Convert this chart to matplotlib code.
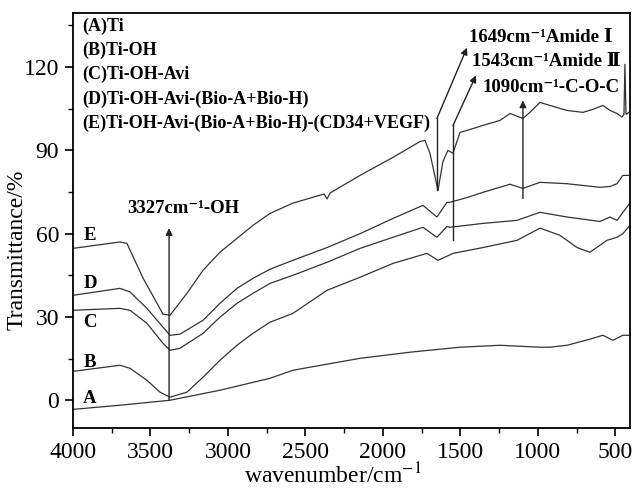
import numpy as np
import matplotlib
matplotlib.use('Agg')
import matplotlib.pyplot as plt
from matplotlib.ticker import MultipleLocator

plt.rcParams['font.family'] = ['Liberation Serif', 'DejaVu Serif', 'Noto Sans CJK SC']
plt.rcParams['mathtext.fontset'] = 'stix'

# wavenumber (cm-1) and transmittance (%)
wn_A = [4000, 3697, 3374, 3052, 2729, 2581, 2148, 1826, 1503, 1245, 987, 923, 813, 665, 581, 516, 452, 406]
tr_A = [-3.3, -1.8, 0.0, 3.6, 7.9, 10.8, 15.1, 17.3, 19.1, 19.8, 19.1, 19.1, 19.8, 22.0, 23.4, 21.6, 23.4, 23.4]

wn_B = [4000, 3697, 3632, 3523, 3439, 3374, 3265, 3161, 3052, 2942, 2839, 2729, 2581, 2361, 2148, 1935,
        1716, 1645, 1548, 1355, 1135, 987, 858, 748, 665, 555, 490, 452, 406]
tr_B = [10.4, 12.6, 11.5, 7.2, 2.9, 1.1, 2.9, 8.3, 14.4, 19.8, 24.1, 28.1, 31.3, 39.6, 44.3, 49.3,
        52.9, 50.4, 52.9, 55.0, 57.6, 62.0, 59.4, 55.0, 53.3, 57.6, 58.7, 60.0, 63.0]

wn_C = [4000, 3697, 3632, 3523, 3419, 3374, 3310, 3161, 3052, 2942, 2839, 2729, 2581, 2361, 2148, 1935,
        1742, 1652, 1587, 1568, 1355, 1135, 987, 813, 600, 535, 490, 426, 406]
tr_C = [32.4, 33.1, 32.4, 27.7, 20.5, 18.0, 18.7, 24.1, 29.9, 34.9, 38.5, 42.1, 45.0, 49.7, 54.7, 58.7,
        62.3, 58.7, 62.6, 62.3, 63.7, 64.8, 67.7, 66.0, 64.4, 66.0, 64.8, 69.6, 71.0]

wn_D = [4000, 3697, 3632, 3523, 3419, 3374, 3310, 3161, 3052, 2942, 2839, 2729, 2581, 2361, 2148, 1935,
        1742, 1652, 1587, 1568, 1458, 1355, 1180, 1097, 987, 813, 600, 535, 490, 452, 406]
tr_D = [37.8, 40.3, 39.0, 33.1, 26.3, 23.4, 23.8, 28.8, 34.9, 40.3, 43.9, 47.2, 50.4, 55.0, 60.0, 65.5,
        70.2, 66.0, 71.3, 71.3, 73.0, 74.9, 77.8, 76.3, 78.5, 78.0, 76.7, 77.0, 78.0, 81.0, 81.0]

wn_E = [4000, 3697, 3652, 3548, 3419, 3374, 3265, 3161, 3052, 2942, 2839, 2729, 2581, 2380, 2361, 2340,
        2148, 1935, 1761, 1729, 1697, 1645, 1613, 1581, 1548, 1503, 1458, 1355, 1245, 1180, 1097,
        1052, 987, 923, 813, 710, 645, 581, 535, 490, 458, 445, 439, 432, 406]
tr_E = [54.7, 57.0, 56.5, 44.0, 31.0, 30.6, 38.5, 46.8, 53.3, 58.3, 63.0, 67.3, 71.0, 74.3, 72.5, 74.7,
        81.0, 87.5, 93.2, 93.6, 89.0, 75.6, 86.0, 90.0, 89.0, 96.5, 97.2, 99.0, 100.8, 103.3, 101.5,
        103.7, 107.3, 106.2, 104.4, 103.7, 104.8, 106.2, 104.4, 103.3, 102.0, 103.0, 121.0, 103.0, 104.0]

curves = [(wn_A, tr_A), (wn_B, tr_B), (wn_C, tr_C), (wn_D, tr_D), (wn_E, tr_E)]
curve_tags = ['A', 'B', 'C', 'D', 'E']
tag_y = [0.7, 13.7, 28.0, 42.0, 59.4]
samples = ['(A)Ti', '(B)Ti-OH', '(C)Ti-OH-Avi', '(D)Ti-OH-Avi-(Bio-A+Bio-H)',
           '(E)Ti-OH-Avi-(Bio-A+Bio-H)-(CD34+VEGF)']
peak_notes = ['3327cm⁻¹-OH', '1649cm⁻¹Amide Ⅰ', '1543cm⁻¹Amide Ⅱ', '1090cm⁻¹-C-O-C']

fig = plt.figure(figsize=(6.33, 4.92), dpi=100)
ax = fig.add_axes([0.1153, 0.1301, 0.88, 0.8435])

for wn, tr in curves:
    ax.plot(wn, tr, color='#333333', lw=0.9)

for tag, ty in zip(curve_tags, tag_y):
    ax.text(3890, ty, tag, fontsize=13.5, fontweight='bold', ha='center', va='center')

for i, s in enumerate(samples):
    ax.text(0.016, 0.967 - i * 0.058, s, transform=ax.transAxes, fontsize=13,
            fontweight='bold', ha='left', va='center')

arw = dict(arrowstyle='-|>', color='#222222', lw=1.0, mutation_scale=10, shrinkA=0, shrinkB=0)
bf = dict(fontsize=13.5, fontweight='bold', va='center')

# OH band
ax.annotate('', xy=(3380, 62), xytext=(3380, 0), arrowprops=arw)
ax.text(3290, 69, peak_notes[0], ha='center', **bf)

# amide I
ax.plot([1652, 1652], [75.6, 101.5], color='#222222', lw=1.0)
ax.annotate('', xy=(1458, 127), xytext=(1652, 101.5), arrowprops=arw)
ax.text(1445, 130.5, peak_notes[1], ha='left', **bf)

# amide II
ax.plot([1548, 1548], [57.6, 99], color='#222222', lw=1.0)
ax.annotate('', xy=(1400, 117), xytext=(1548, 99), arrowprops=arw)
ax.text(1426, 122, peak_notes[2], ha='left', **bf)

# C-O-C
ax.annotate('', xy=(1097, 108), xytext=(1097, 72.7), arrowprops=arw)
ax.text(1355, 112.5, peak_notes[3], ha='left', **bf)

ax.set_xlim(4000, 406)
ax.set_ylim(-10, 139.5)
ax.xaxis.set_major_locator(MultipleLocator(500))
ax.xaxis.set_minor_locator(MultipleLocator(250))
ax.yaxis.set_major_locator(MultipleLocator(30))
ax.yaxis.set_minor_locator(MultipleLocator(15))
ax.tick_params(which='major', direction='out', length=6, width=1.2, labelsize=17, pad=4)
ax.tick_params(which='minor', direction='out', length=3.5, width=1.0)
for sp in ax.spines.values():
    sp.set_linewidth(1.3)

ax.set_xlabel(r'wavenumber/cm$^{-1}$', fontsize=17)
ax.set_ylabel('Transmittance/%', fontsize=17)
ax.xaxis.set_label_coords(0.467, -0.085)
ax.yaxis.set_label_coords(-0.081, 0.43)

fig.savefig('out.png', dpi=100)
